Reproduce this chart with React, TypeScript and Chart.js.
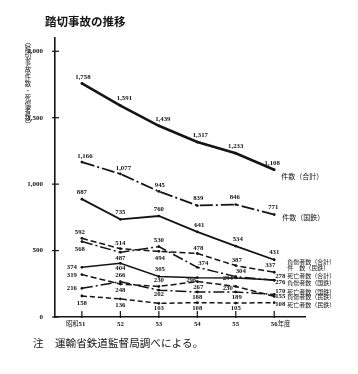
import React, { useEffect, useRef } from 'react';
import { Chart, registerables } from 'chart.js';

Chart.register(...registerables);

// ---- data ----
const years = [51, 52, 53, 54, 55, 56];
const xTickLabels = ['昭和51', '52', '53', '54', '55', '56年度'];
const yTickValues = [0, 500, 1000, 1500, 2000];

const accidentsTotal = [1758, 1591, 1439, 1317, 1233, 1108];
const accidentsJNR = [1166, 1077, 945, 839, 846, 771];
const injuredTotal = [887, 735, 760, 641, 534, 431];
const accidentsPrivate = [592, 514, 494, 478, 387, 337];
const injuredJNR = [568, 487, 530, 374, 304, 276];
const deathsTotal = [374, 404, 305, 296, 294, 278];
const injuredPrivate = [319, 248, 230, 267, 230, 155];
const deathsJNR = [216, 266, 202, 188, 189, 170];
const deathsPrivate = [158, 136, 103, 108, 105, 108];

const seriesNames = [
  '件数（合計）',
  '件数（国鉄）',
  '負傷者数（合計）',
  '件　数（民鉄）',
  '負傷者数（国鉄）',
  '死亡者数（合計）',
  '負傷者数（民鉄）',
  '死亡者数（国鉄）',
  '死亡者数（民鉄）',
];
const seriesValues = [
  accidentsTotal,
  accidentsJNR,
  injuredTotal,
  accidentsPrivate,
  injuredJNR,
  deathsTotal,
  injuredPrivate,
  deathsJNR,
  deathsPrivate,
];

const TITLE = '踏切事故の推移';
const Y_TITLE = '︵踏切事故件数・死傷者数︶';
const NOTE_HEAD = '注';
const NOTE = '運輸省鉄道監督局調べによる。';

// ---- styles ----
const INK = '#141414';
const DASH_DOT = [11, 3, 2, 3];
const LINE_STYLES = [
  { width: 2.6, dash: [] as number[] },
  { width: 1.8, dash: [13, 3, 2, 3] },
  { width: 1.8, dash: [] as number[] },
  { width: 1.5, dash: [6, 3] },
  { width: 1.5, dash: DASH_DOT },
  { width: 1.5, dash: [] as number[] },
  { width: 1.5, dash: [6, 3] },
  { width: 1.5, dash: DASH_DOT },
  { width: 1.5, dash: [5, 3] },
];
// per series, per point: [dx, dy] of value label centre from point
const LABEL_OFFSETS: number[][][] = [
  [[1, -6], [4, -7], [4, -7], [3, -7], [0, -7], [-2, -7]],
  [[3, -6], [3, -6], [1, -6], [1, -7], [-1, -7], [-1, -7]],
  [[0, -7], [0, -7], [0, -7], [2, -7], [2, -7], [0, -7]],
  [[-2, -6], [0, -5], [1, 7], [1, -5], [1, -5], [-4, -7]],
  [[-2, 8], [0, 6], [0, -6], [6, -4], [5, -5], [6, 2]],
  [[-10, 0], [0, 5], [1, -7], [-6, 3], [-8, 0], [6, -4]],
  [[-10, 1], [0, 6], [0, -6], [1, 6], [-8, 2], [6, 0]],
  [[-10, 0], [0, -6], [0, 4], [0, 5], [1, 5], [6, -3]],
  [[0, 7], [0, 6], [0, 5], [0, 6], [0, 5], [6, 2]],
];
// [dx, dy, fontSize] of series name from last point
const NAME_POS: number[][] = [
  [7, 7, 7],
  [8, 2.5, 7],
  [13, 2, 6],
  [13, -5, 6],
  [13, 2, 6],
  [13, -4, 6],
  [13, 0, 6],
  [13, -3, 6],
  [13, 2, 6],
];

const NUM_FONT = '"Liberation Serif", "DejaVu Serif", serif';
const JP_FONT = '"Noto Sans CJK JP", "Noto Sans", sans-serif';

const textPlugin = {
  id: 'customTexts',
  afterDatasetsDraw(chart: any) {
    const ctx = chart.ctx as CanvasRenderingContext2D;
    const xs = chart.scales.x;
    const ys = chart.scales.y;
    const area = chart.chartArea;
    ctx.save();
    ctx.fillStyle = INK;
    ctx.strokeStyle = INK;

    // value labels + series names
    seriesValues.forEach((vals, di) => {
      const meta = chart.getDatasetMeta(di);
      ctx.textAlign = 'center';
      ctx.textBaseline = 'middle';
      ctx.font = `bold 6.8px ${NUM_FONT}`;
      meta.data.forEach((pt: any, i: number) => {
        const [dx, dy] = LABEL_OFFSETS[di][i];
        ctx.fillText(vals[i].toLocaleString('en-US'), pt.x + dx, pt.y + dy);
      });
      const last = meta.data[meta.data.length - 1];
      const [nx, ny, size] = NAME_POS[di];
      ctx.textAlign = 'left';
      ctx.font = `${size}px ${JP_FONT}`;
      ctx.fillText(seriesNames[di], last.x + nx, last.y + ny);
    });

    // x tick marks and labels
    ctx.lineWidth = 1.2;
    years.forEach((yr, i) => {
      const px = xs.getPixelForValue(yr);
      ctx.beginPath();
      ctx.moveTo(px, area.bottom - 6);
      ctx.lineTo(px, area.bottom + 1);
      ctx.stroke();
      const m = xTickLabels[i].match(/^(\D*)(\d+)(\D*)$/);
      const pre = m ? m[1] : '';
      const num = m ? m[2] : xTickLabels[i];
      const suf = m ? m[3] : '';
      const ly = area.bottom + 7;
      ctx.textBaseline = 'middle';
      ctx.font = `bold 6.8px ${NUM_FONT}`;
      const w = ctx.measureText(num).width;
      ctx.textAlign = 'center';
      ctx.fillText(num, px, ly);
      ctx.font = `6.3px ${JP_FONT}`;
      if (pre) {
        ctx.textAlign = 'right';
        ctx.fillText(pre, px - w / 2, ly);
      }
      if (suf) {
        ctx.textAlign = 'left';
        ctx.fillText(suf, px + w / 2, ly);
      }
    });

    // y tick marks
    ys.ticks.forEach((t: any) => {
      const py = ys.getPixelForValue(t.value);
      ctx.beginPath();
      ctx.moveTo(area.left - 3, py);
      ctx.lineTo(area.left + 4, py);
      ctx.stroke();
    });

    // title
    ctx.textAlign = 'left';
    ctx.textBaseline = 'middle';
    ctx.font = `bold 11.5px ${JP_FONT}`;
    ctx.fillText(TITLE, 45, 22);

    // vertical y title
    ctx.font = `6.4px ${JP_FONT}`;
    ctx.textAlign = 'center';
    Array.from(Y_TITLE).forEach((ch, i) => {
      ctx.fillText(ch, 28, 42 + i * 6.9);
    });

    // note
    ctx.font = `10.6px ${JP_FONT}`;
    ctx.textAlign = 'left';
    ctx.fillText(NOTE_HEAD, 33, 343);
    ctx.fillText(NOTE, 55, 343);
    ctx.restore();
  },
};

export default function App() {
  const ref = useRef<HTMLCanvasElement | null>(null);
  useEffect(() => {
    if (!ref.current) return;
    const chart = new Chart(ref.current, {
      type: 'line',
      data: {
        datasets: seriesValues.map((vals, di) => ({
          label: seriesNames[di],
          data: years.map((yr, i) => ({ x: yr, y: vals[i] })),
          borderColor: INK,
          backgroundColor: INK,
          borderWidth: LINE_STYLES[di].width,
          borderDash: LINE_STYLES[di].dash,
          pointRadius: 1.4,
          pointBorderWidth: 0,
          pointBackgroundColor: INK,
          tension: 0,
          clip: false as any,
        })),
      },
      options: {
        responsive: false,
        animation: false,
        events: [],
        layout: { padding: { top: 38, right: 53, left: 0, bottom: 0 } },
        plugins: {
          legend: { display: false },
          tooltip: { enabled: false },
          title: { display: false },
        },
        scales: {
          x: {
            type: 'linear',
            min: 50.3,
            max: 56.8,
            afterFit: (s: any) => {
              s.height = 57;
            },
            ticks: { display: false, stepSize: 1 },
            grid: { display: false },
            border: { display: true, color: INK, width: 1.6 },
          },
          y: {
            type: 'linear',
            min: 0,
            max: 2100,
            afterFit: (s: any) => {
              s.width = 55;
            },
            afterBuildTicks: (s: any) => {
              s.ticks = yTickValues.map((v) => ({ value: v }));
            },
            ticks: {
              padding: 4,
              color: INK,
              font: { family: NUM_FONT, size: 7, weight: 'bold' },
              callback: (v: any) => Number(v).toLocaleString('en-US'),
            },
            grid: { display: false },
            border: { display: true, color: INK, width: 1.6 },
          },
        },
      },
      plugins: [textPlugin],
    });
    return () => chart.destroy();
  }, []);
  return (
    <div style={{ position: 'absolute', left: 0, top: 0, width: 358, height: 374, background: '#fff' }}>
      <canvas ref={ref} width={358} height={374} />
    </div>
  );
}
